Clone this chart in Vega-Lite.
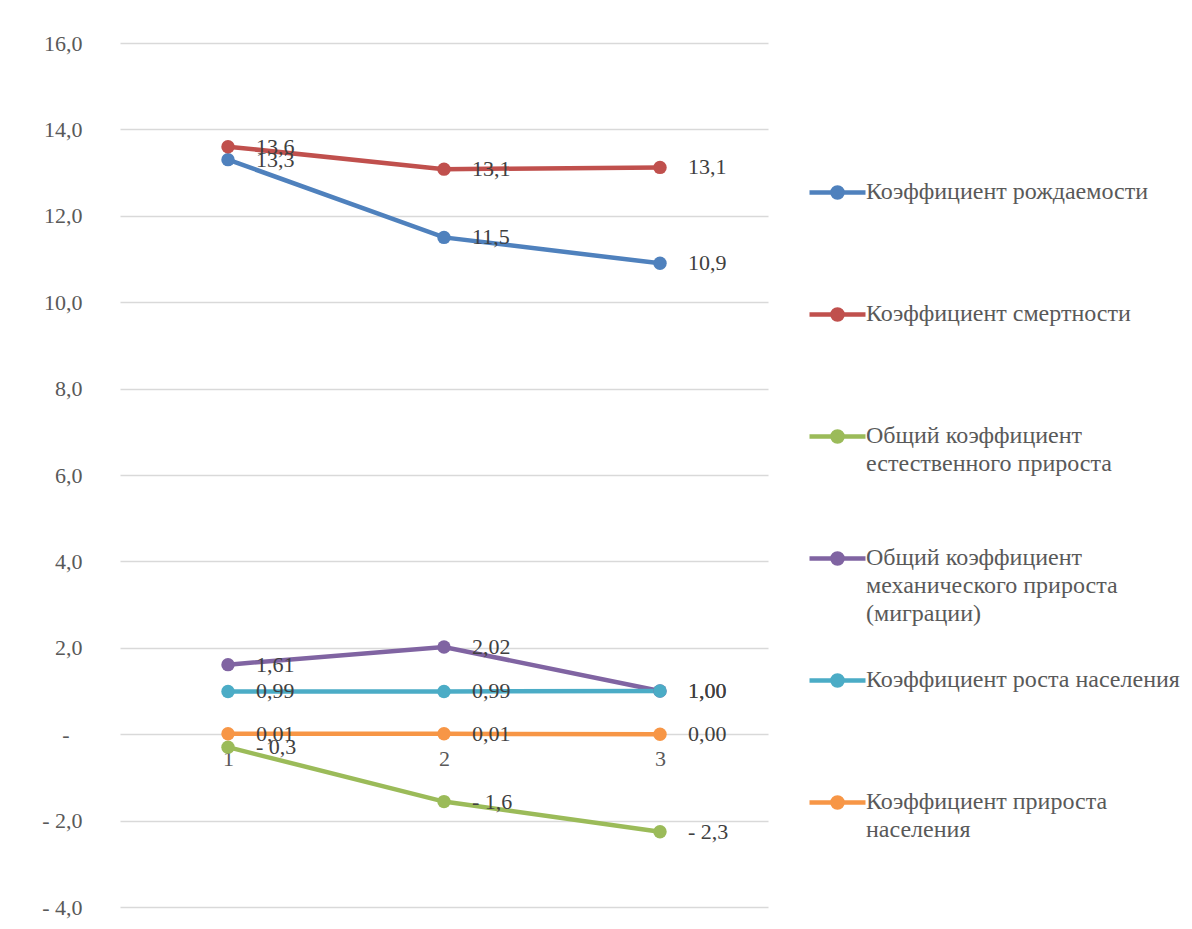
{
  "$schema": "https://vega.github.io/schema/vega-lite/v6.json",
  "width": 648,
  "height": 864,
  "autosize": {"type": "none"},
  "padding": {"left": 120, "top": 43, "right": 424, "bottom": 22},
  "background": "white",
  "config": {
    "locale": {"number": {"decimal": ",", "thousands": " ", "grouping": [3], "currency": ["", ""], "minus": "- "}},
    "view": {"stroke": null},
    "font": "Liberation Serif, DejaVu Serif, serif"
  },
  "data": {
    "values": [
      {"series": "Коэффициент рождаемости", "x": "1", "value": 13.3},
      {"series": "Коэффициент рождаемости", "x": "2", "value": 11.5},
      {"series": "Коэффициент рождаемости", "x": "3", "value": 10.9},
      {"series": "Коэффициент смертности", "x": "1", "value": 13.6},
      {"series": "Коэффициент смертности", "x": "2", "value": 13.08},
      {"series": "Коэффициент смертности", "x": "3", "value": 13.12},
      {"series": "Общий коэффициент естественного прироста", "x": "1", "value": -0.3},
      {"series": "Общий коэффициент естественного прироста", "x": "2", "value": -1.56},
      {"series": "Общий коэффициент естественного прироста", "x": "3", "value": -2.26},
      {"series": "Общий коэффициент механического прироста (миграции)", "x": "1", "value": 1.61},
      {"series": "Общий коэффициент механического прироста (миграции)", "x": "2", "value": 2.02},
      {"series": "Общий коэффициент механического прироста (миграции)", "x": "3", "value": 1.0},
      {"series": "Коэффициент роста населения", "x": "1", "value": 0.99},
      {"series": "Коэффициент роста населения", "x": "2", "value": 0.99},
      {"series": "Коэффициент роста населения", "x": "3", "value": 1.0},
      {"series": "Коэффициент прироста населения", "x": "1", "value": 0.01},
      {"series": "Коэффициент прироста населения", "x": "2", "value": 0.01},
      {"series": "Коэффициент прироста населения", "x": "3", "value": 0.0}
    ]
  },
  "encoding": {
    "x": {
      "field": "x", "type": "ordinal",
      "scale": {"type": "point", "padding": 0.5},
      "axis": {"title": null, "labelAngle": 0, "domain": false, "ticks": false, "grid": false, "offset": -172.8, "labelPadding": 14, "labelFontSize": 22, "labelColor": "#595959", "labelFont": "Liberation Serif, DejaVu Serif, serif"}
    },
    "y": {
      "field": "value", "type": "quantitative",
      "scale": {"domain": [-4, 16], "nice": false, "zero": false},
      "axis": {"title": null, "values": [-4, -2, 0, 2, 4, 6, 8, 10, 12, 14, 16], "format": ".1f", "labelExpr": "datum.value == 0 ? '-' : datum.label", "domain": false, "ticks": false, "grid": true, "gridColor": "#d9d9d9", "gridWidth": 1.5, "labelPadding": {"condition": {"test": "datum.value == 0", "value": 51}, "value": 38}, "labelFontSize": 22, "labelColor": "#595959", "labelFont": "Liberation Serif, DejaVu Serif, serif"}
    },
    "color": {
      "field": "series", "type": "nominal",
      "scale": {
        "domain": ["Коэффициент рождаемости", "Коэффициент смертности", "Общий коэффициент естественного прироста", "Общий коэффициент механического прироста (миграции)", "Коэффициент роста населения", "Коэффициент прироста населения"],
        "range": ["#4f81bd", "#c0504d", "#9bbb59", "#8064a2", "#4bacc6", "#f79646"]
      },
      "legend": {
        "orient": "none", "legendX": 687, "legendY": 119, "direction": "vertical", "title": null, "padding": 0,
        "symbolType": "M-1,0H1M0.18,0A0.18,0.18,0,1,1,-0.18,0A0.18,0.18,0,1,1,0.18,0Z",
        "symbolSize": 3136, "symbolStrokeWidth": 4.5,
        "labelFont": "Liberation Serif, DejaVu Serif, serif", "labelFontSize": 24, "labelColor": "#595959", "labelOffset": -2, "labelLimit": 400, "labelBaseline": "top",
        "gridAlign": "all", "rowPadding": 24,
        "labelExpr": "datum.label == 'Общий коэффициент естественного прироста' ? ['Общий коэффициент', 'естественного прироста'] : datum.label == 'Общий коэффициент механического прироста (миграции)' ? ['Общий коэффициент', 'механического прироста', '(миграции)'] : datum.label == 'Коэффициент прироста населения' ? ['Коэффициент прироста', 'населения'] : datum.label",
        "encode": {
          "symbols": {"update": {"fill": {"scale": "color", "field": "value"}, "stroke": {"scale": "color", "field": "value"}, "opacity": {"value": 1}}},
          "labels": {"update": {"dy": {"value": -13}, "lineHeight": {"value": 28}}}
        }
      }
    }
  },
  "layer": [
    {"mark": {"type": "line", "strokeWidth": 4.5, "strokeCap": "round"}},
    {"mark": {"type": "point", "filled": true, "size": 180, "opacity": 1}},
    {
      "transform": [{"filter": "indexof(['Коэффициент рождаемости', 'Коэффициент смертности', 'Общий коэффициент естественного прироста'], datum.series) >= 0"}],
      "mark": {"type": "text", "align": "left", "baseline": "middle", "dx": 28, "fontSize": 22, "font": "Liberation Serif, DejaVu Serif, serif"},
      "encoding": {"text": {"field": "value", "type": "quantitative", "format": ".1f"}, "color": {"value": "#404040"}}
    },
    {
      "transform": [{"filter": "indexof(['Коэффициент рождаемости', 'Коэффициент смертности', 'Общий коэффициент естественного прироста'], datum.series) < 0"}],
      "mark": {"type": "text", "align": "left", "baseline": "middle", "dx": 28, "fontSize": 22, "font": "Liberation Serif, DejaVu Serif, serif"},
      "encoding": {"text": {"field": "value", "type": "quantitative", "format": ".2f"}, "color": {"value": "#404040"}}
    }
  ]
}
